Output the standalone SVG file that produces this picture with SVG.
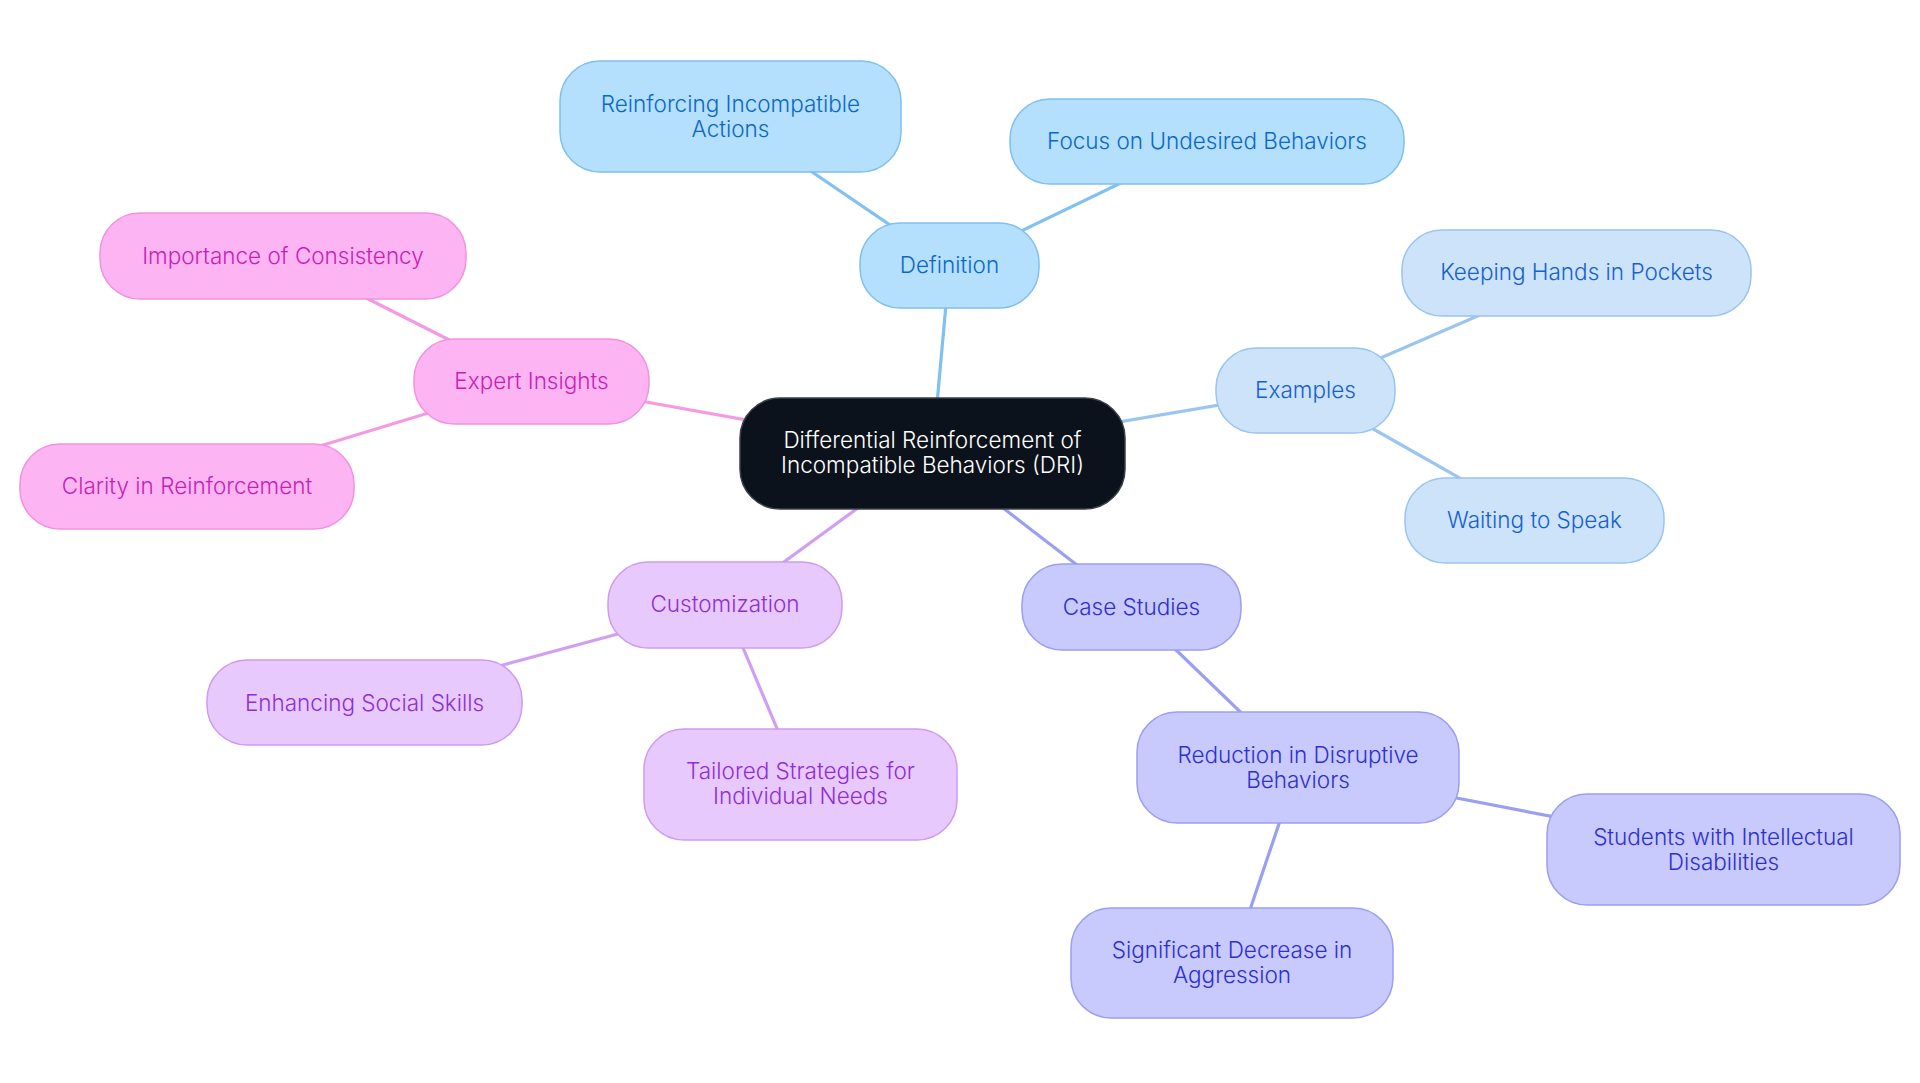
<svg xmlns="http://www.w3.org/2000/svg" width="1920" height="1083" viewBox="0 0 1920 1083">
<style>
text{font-family:Inter,"Noto Sans",sans-serif;font-size:22.5px;font-weight:300;text-anchor:middle;dominant-baseline:central}
.n rect{stroke-width:1.5}
.c rect{fill:#0c121b;stroke:#3b4048}
.c text{fill:#ffffff}
.b1 rect{fill:#b4dffd;stroke:#80bff0}
.b1 text{fill:#0b69c6}
.b2 rect{fill:#cde3fa;stroke:#9ac4ef}
.b2 text{fill:#1661cf}
.b3 rect{fill:#c8c9fc;stroke:#9b9ef1}
.b3 text{fill:#2d30cf}
.b4 rect{fill:#e8c9fd;stroke:#cd9bef}
.b4 text{fill:#8e2fd6}
.b5 rect{fill:#fdb4f3;stroke:#f092e0}
.b5 text{fill:#c81fb3}
#edges line{stroke-width:3.2;fill:none}
.e1{stroke:#80c1f1}.e2{stroke:#9ac5ef}.e3{stroke:#9b9ff2}.e4{stroke:#d09ff2}.e5{stroke:#f39ae3}
</style>
<rect width="1920" height="1083" fill="#ffffff"/>
<g id="edges">
<line class="e1" x1="932.5" y1="453.5" x2="949.5" y2="265.5"/>
<line class="e1" x1="949.5" y1="265.5" x2="730.5" y2="116.5"/>
<line class="e1" x1="949.5" y1="265.5" x2="1207" y2="141.5"/>
<line class="e2" x1="932.5" y1="453.5" x2="1305.5" y2="390.5"/>
<line class="e2" x1="1305.5" y1="390.5" x2="1576.5" y2="273"/>
<line class="e2" x1="1305.5" y1="390.5" x2="1534.5" y2="520.5"/>
<line class="e3" x1="932.5" y1="453.5" x2="1131.5" y2="607"/>
<line class="e3" x1="1131.5" y1="607" x2="1298" y2="767.5"/>
<line class="e3" x1="1298" y1="767.5" x2="1723.5" y2="849.5"/>
<line class="e3" x1="1298" y1="767.5" x2="1232" y2="963"/>
<line class="e4" x1="932.5" y1="453.5" x2="725" y2="605"/>
<line class="e4" x1="725" y1="605" x2="364.5" y2="702.5"/>
<line class="e4" x1="725" y1="605" x2="800.5" y2="784.5"/>
<line class="e5" x1="932.5" y1="453.5" x2="531.5" y2="381.5"/>
<line class="e5" x1="531.5" y1="381.5" x2="283" y2="256"/>
<line class="e5" x1="531.5" y1="381.5" x2="187" y2="486.5"/>
</g>
<g id="center" class="n c"><rect x="740" y="398" width="385" height="111" rx="40"/><text x="932.5" y="439">Differential Reinforcement of</text><text x="932.5" y="464">Incompatible Behaviors (DRI)</text></g>
<g id="definition" class="n b1"><rect x="860" y="223" width="179" height="85" rx="40"/><text x="949.5" y="264">Definition</text></g>
<g id="reinforcing" class="n b1"><rect x="560" y="61" width="341" height="111" rx="40"/><text x="730.5" y="103">Reinforcing Incompatible</text><text x="730.5" y="128">Actions</text></g>
<g id="focus" class="n b1"><rect x="1010" y="99" width="394" height="85" rx="40"/><text x="1207" y="140">Focus on Undesired Behaviors</text></g>
<g id="examples" class="n b2"><rect x="1216" y="348" width="179" height="85" rx="40"/><text x="1305.5" y="389">Examples</text></g>
<g id="keeping" class="n b2"><rect x="1402" y="230" width="349" height="86" rx="40"/><text x="1576.5" y="271">Keeping Hands in Pockets</text></g>
<g id="waiting" class="n b2"><rect x="1405" y="478" width="259" height="85" rx="40"/><text x="1534.5" y="519">Waiting to Speak</text></g>
<g id="case" class="n b3"><rect x="1022" y="564" width="219" height="86" rx="40"/><text x="1131.5" y="606">Case Studies</text></g>
<g id="reduction" class="n b3"><rect x="1137" y="712" width="322" height="111" rx="40"/><text x="1298" y="754">Reduction in Disruptive</text><text x="1298" y="779">Behaviors</text></g>
<g id="students" class="n b3"><rect x="1547" y="794" width="353" height="111" rx="40"/><text x="1723.5" y="836">Students with Intellectual</text><text x="1723.5" y="861">Disabilities</text></g>
<g id="significant" class="n b3"><rect x="1071" y="908" width="322" height="110" rx="40"/><text x="1232" y="949">Significant Decrease in</text><text x="1232" y="974">Aggression</text></g>
<g id="customization" class="n b4"><rect x="608" y="562" width="234" height="86" rx="40"/><text x="725" y="603">Customization</text></g>
<g id="enhancing" class="n b4"><rect x="207" y="660" width="315" height="85" rx="40"/><text x="364.5" y="702">Enhancing Social Skills</text></g>
<g id="tailored" class="n b4"><rect x="644" y="729" width="313" height="111" rx="40"/><text x="800.5" y="770">Tailored Strategies for</text><text x="800.5" y="795">Individual Needs</text></g>
<g id="expert" class="n b5"><rect x="414" y="339" width="235" height="85" rx="40"/><text x="531.5" y="380">Expert Insights</text></g>
<g id="importance" class="n b5"><rect x="100" y="213" width="366" height="86" rx="40"/><text x="283" y="255">Importance of Consistency</text></g>
<g id="clarity" class="n b5"><rect x="20" y="444" width="334" height="85" rx="40"/><text x="187" y="485">Clarity in Reinforcement</text></g>
</svg>
